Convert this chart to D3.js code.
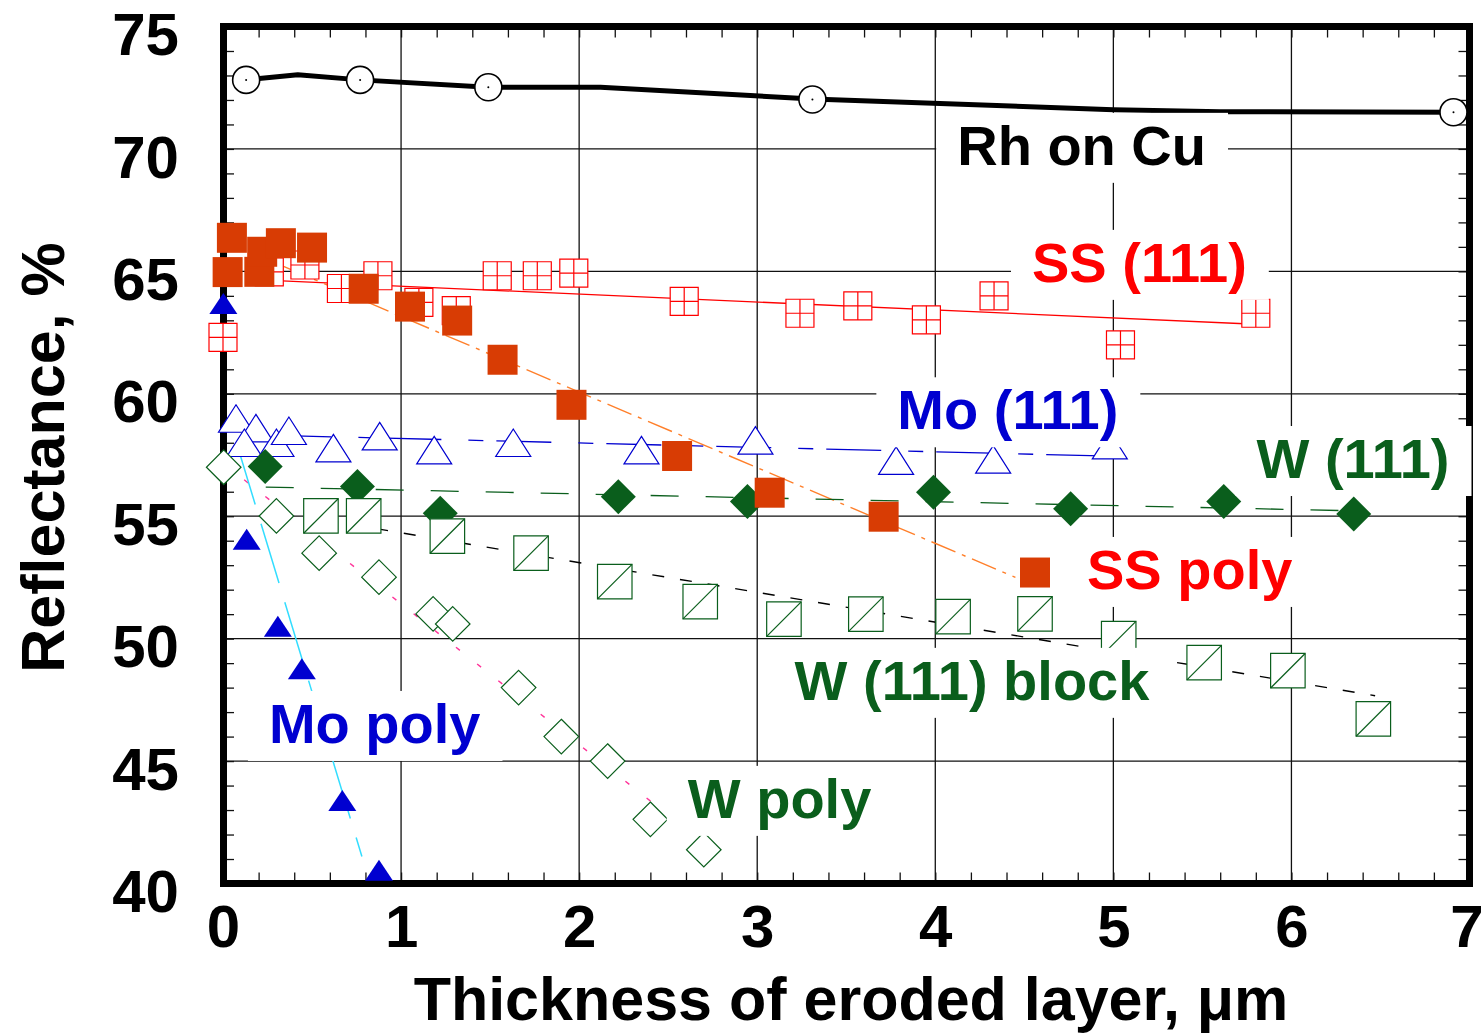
<!DOCTYPE html>
<html>
<head>
<meta charset="utf-8">
<script src="https://cdn.jsdelivr.net/npm/d3@7"></script>
<style>
  html, body { margin: 0; padding: 0; background: #fff; }
  svg { display: block; }
</style>
</head>
<body>
<svg id="chart" width="1484" height="1033"></svg>
<script>
// ---- axes ----
const xTicks = [0, 1, 2, 3, 4, 5, 6, 7];
const yTicks = [40, 45, 50, 55, 60, 65, 70, 75];
const xTitle = "Thickness of eroded layer, \u03bcm";
const yTitle = "Reflectance, %";

// ---- Rh on Cu (open circles + smoothed trend) ----
const rhX = [0.13, 0.77, 1.49, 3.31, 6.91];
const rhY = [72.82, 72.82, 72.52, 72.02, 71.5];
const rhTrendX = [0.13, 0.42, 0.77, 1.49, 2.12, 3.31, 5.0, 5.6, 6.91];
const rhTrendY = [72.82, 73.03, 72.82, 72.52, 72.52, 72.04, 71.6, 71.52, 71.5];

// ---- SS (111) ----
const ss111X = [0.0, 0.26, 0.46, 0.665, 0.87, 1.10, 1.31, 1.54, 1.765, 1.97, 2.59, 3.24, 3.565, 3.95, 4.33, 5.04, 5.80];
const ss111Y = [62.3, 64.98, 65.26, 64.3, 64.82, 63.73, 63.4, 64.82, 64.82, 64.93, 63.77, 63.29, 63.59, 63.02, 64.0, 62.0, 63.29];
const ss111TrendX = [0.3, 5.8];
const ss111TrendY = [64.62, 62.84];

// ---- SS poly ----
const ssPolyX = [0.05, 0.026, 0.204, 0.22, 0.325, 0.50, 0.79, 1.05, 1.315, 1.57, 1.957, 2.55, 3.07, 3.71, 4.56];
const ssPolyY = [66.37, 64.97, 64.98, 65.8, 66.15, 65.97, 64.29, 63.56, 62.99, 61.39, 59.55, 57.46, 55.96, 54.98, 52.7];
const ssPolyTrendX = [0.34, 4.45];
const ssPolyTrendY = [65.2, 52.5];

// ---- Mo (111) ----
const mo111X = [0.073, 0.185, 0.12, 0.30, 0.37, 0.62, 0.88, 1.186, 1.63, 2.35, 2.99, 3.78, 4.325, 4.98];
const mo111Y = [58.99, 58.6, 58.0, 58.0, 58.49, 57.78, 58.27, 57.7, 58.0, 57.7, 58.1, 57.27, 57.32, 57.9];
const mo111TrendX = [0.3, 5.0];
const mo111TrendY = [58.3, 57.45];

// ---- W (111) ----
const w111X = [0.237, 0.755, 1.22, 2.22, 2.945, 3.99, 4.76, 5.62, 6.35];
const w111Y = [57.03, 56.21, 55.12, 55.8, 55.6, 55.98, 55.3, 55.6, 55.09];
const w111TrendX = [0.24, 6.35];
const w111TrendY = [56.19, 55.22];

// ---- W (111) block ----
const wBlockX = [0.55, 0.79, 1.26, 1.73, 2.20, 2.68, 3.15, 3.61, 4.10, 4.56, 5.03, 5.51, 5.98, 6.46];
const wBlockY = [55.01, 55.01, 54.19, 53.49, 52.33, 51.51, 50.8, 51.0, 50.9, 51.01, 50.0, 49.02, 48.69, 46.72];
const wBlockTrendX = [0.55, 6.47];
const wBlockTrendY = [54.87, 47.67];

// ---- W poly ----
const wPolyX = [0.004, 0.30, 0.54, 0.876, 1.18, 1.29, 1.66, 1.90, 2.16, 2.40, 2.70];
const wPolyY = [57.0, 55.01, 53.49, 52.51, 51.01, 50.6, 48.0, 46.0, 45.0, 42.62, 41.38];
const wPolyTrendX = [0.0, 2.68];
const wPolyTrendY = [57.17, 41.76];

// ---- Mo poly ----
const moPolyX = [0.002, 0.133, 0.308, 0.443, 0.67, 0.876];
const moPolyY = [63.69, 54.06, 50.51, 48.77, 43.39, 40.54];
const moPolyTrendX = [0.08, 0.78];
const moPolyTrendY = [57.9, 41.1];

// ---- in-plot labels (anchor = text start, baseline, in data units) ----
const labelText = ["Rh on Cu", "SS (111)", "Mo (111)", "W (111)", "SS poly", "W (111) block", "Mo poly", "W poly"];
const labelX = [4.123, 4.543, 3.787, 5.804, 4.852, 3.21, 0.258, 2.61];
const labelY = [69.35, 64.57, 58.55, 56.56, 52.03, 47.5, 45.74, 42.68];

// ---------------------------------------------------------------
const C = {
  black: "#000000",
  red: "#ff0000",
  ssPoly: "#d83c04",
  orange: "#ff7f2a",
  blue: "#0000d0",
  cyan: "#33ddff",
  green: "#0a5e1c",
  magenta: "#ff3399"
};
const labelColor = [C.black, C.red, C.blue, C.green, C.red, C.green, C.blue, C.green];
const FONT = "'Liberation Sans', Arial, Helvetica, sans-serif";

const svg = d3.select("#chart");
const x = d3.scaleLinear().domain([0, 7]).range([223, 1469.5]);
const y = d3.scaleLinear().domain([40, 75]).range([883.5, 26.5]);
const [x0, x1] = x.range();
const [y0, y1] = y.range();

const zip = (xs, ys) => xs.map((v, i) => [v, ys[i]]);

// gridlines
const grid = svg.append("g").attr("stroke", "#111").attr("stroke-width", 1.3);
grid.selectAll("line.gx").data(xTicks.slice(1, -1)).join("line")
  .attr("x1", d => x(d)).attr("x2", d => x(d)).attr("y1", y1).attr("y2", y0);
grid.selectAll("line.gy").data(yTicks.slice(1, -1)).join("line")
  .attr("y1", d => y(d)).attr("y2", d => y(d)).attr("x1", x0).attr("x2", x1);

// inward minor ticks on all four sides
const xMinor = d3.range(0, 35).map(i => i / 5);
const yMinor = d3.range(40, 76);
const tickLen = 11;
function styleTicks(g) {
  g.select(".domain").remove();
  g.selectAll(".tick line").attr("stroke", "#111").attr("stroke-width", 1.3);
}
svg.append("g").attr("transform", `translate(0,${y0})`)
  .call(d3.axisBottom(x).tickValues(xMinor).tickSize(-tickLen).tickFormat("")).call(styleTicks);
svg.append("g").attr("transform", `translate(0,${y1})`)
  .call(d3.axisTop(x).tickValues(xMinor).tickSize(-tickLen).tickFormat("")).call(styleTicks);
svg.append("g").attr("transform", `translate(${x0},0)`)
  .call(d3.axisLeft(y).tickValues(yMinor).tickSize(-tickLen).tickFormat("")).call(styleTicks);
svg.append("g").attr("transform", `translate(${x1},0)`)
  .call(d3.axisRight(y).tickValues(yMinor).tickSize(-tickLen).tickFormat("")).call(styleTicks);

// thick frame
svg.append("rect")
  .attr("x", x0 + 0.5).attr("y", y1).attr("width", x1 - x0 - 0.5).attr("height", y0 - y1)
  .attr("fill", "none").attr("stroke", "#000").attr("stroke-width", 7);

// tick labels
const xAxisLabels = svg.append("g").attr("transform", `translate(0,${y0})`)
  .call(d3.axisBottom(x).tickValues(xTicks).tickSize(0).tickPadding(21).tickFormat(d3.format("d")));
const yAxisLabels = svg.append("g").attr("transform", `translate(${x0},0)`)
  .call(d3.axisLeft(y).tickValues(yTicks).tickSize(0).tickPadding(44).tickFormat(d3.format("d")));
[xAxisLabels, yAxisLabels].forEach(g => {
  g.select(".domain").remove();
  g.selectAll("text").attr("font-family", FONT).attr("font-weight", "bold")
    .attr("font-size", 60).attr("fill", "#000");
});
yAxisLabels.selectAll("text").attr("dy", "0.47em");
// keep the last x label inside the page edge
xAxisLabels.selectAll("text").filter(d => d === 7).attr("dx", -3);

// axis titles
svg.append("text").attr("x", 851).attr("y", 1020)
  .attr("text-anchor", "middle").attr("font-family", FONT).attr("font-weight", "bold")
  .attr("font-size", 61).text(xTitle);
svg.append("text").attr("transform", "translate(63.5,457.5) rotate(-90)")
  .attr("text-anchor", "middle").attr("font-family", FONT).attr("font-weight", "bold")
  .attr("font-size", 61).text(yTitle);

// trend lines
const line = d3.line().x(d => x(d[0])).y(d => y(d[1]));
const trends = [
  { pts: zip(rhTrendX, rhTrendY), color: C.black, w: 5, dash: null },
  { pts: zip(ss111TrendX, ss111TrendY), color: C.red, w: 1.3, dash: null },
  { pts: zip(ssPolyTrendX, ssPolyTrendY), color: C.orange, w: 1.4, dash: "26,7,4,7" },
  { pts: zip(mo111TrendX, mo111TrendY), color: C.blue, w: 1.3, dash: "55,27,15,13" },
  { pts: zip(w111TrendX, w111TrendY), color: C.green, w: 1.3, dash: "28,27" },
  { pts: zip(wBlockTrendX, wBlockTrendY), color: C.black, w: 1.4, dash: "12,16" },
  { pts: zip(wPolyTrendX, wPolyTrendY), color: C.magenta, w: 1.4, dash: "5,22" },
  { pts: zip(moPolyTrendX, moPolyTrendY), color: C.cyan, w: 1.5, dash: "62,20" }
];
svg.append("g").selectAll("path").data(trends).join("path")
  .attr("d", d => line(d.pts)).attr("fill", "none")
  .attr("stroke", d => d.color).attr("stroke-width", d => d.w)
  .attr("stroke-dasharray", d => d.dash).attr("stroke-linejoin", "round");

// marker shapes (centred on the data point)
const sq = s => `M${-s/2},${-s/2}H${s/2}V${s/2}H${-s/2}Z`;
const tri = (w, h) => `M0,${-h/2}L${w/2},${h/2}L${-w/2},${h/2}Z`;
const dia = r => `M0,${-r}L${r},0L0,${r}L${-r},0Z`;

function markers(xs, ys, draw) {
  const g = svg.append("g");
  g.selectAll("g").data(zip(xs, ys)).join("g")
    .attr("transform", d => `translate(${x(d[0])},${y(d[1])})`)
    .each(function () { draw(d3.select(this)); });
}

// Rh on Cu: open circle with centre dot
markers(rhX, rhY, m => {
  m.append("circle").attr("r", 13.5).attr("fill", "#fff").attr("stroke", "#000").attr("stroke-width", 1.6);
  m.append("circle").attr("r", 1).attr("fill", "#000");
});
// SS (111): open square divided into four
markers(ss111X, ss111Y, m => {
  m.append("path").attr("d", sq(28)).attr("fill", "#fff").attr("stroke", C.red).attr("stroke-width", 1.2);
  m.append("path").attr("d", "M0,-14V14M-14,0H14").attr("stroke", C.red).attr("stroke-width", 1.2);
});
// Mo (111): open triangle
markers(mo111X, mo111Y, m => {
  m.append("path").attr("d", tri(35, 27.5)).attr("fill", "#fff").attr("stroke", C.blue).attr("stroke-width", 1.2);
});
// W (111): filled diamond
markers(w111X, w111Y, m => {
  m.append("path").attr("d", dia(17.5)).attr("fill", C.green);
});
// W (111) block: open square with diagonal
markers(wBlockX, wBlockY, m => {
  m.append("path").attr("d", sq(34.5)).attr("fill", "#fff").attr("stroke", C.green).attr("stroke-width", 1.2);
  m.append("path").attr("d", "M-17.25,17.25L17.25,-17.25").attr("stroke", C.green).attr("stroke-width", 1.2);
});
// W poly: open diamond
markers(wPolyX, wPolyY, m => {
  m.append("path").attr("d", dia(17.3)).attr("fill", "#fff").attr("stroke", C.green).attr("stroke-width", 1.2);
});
// Mo poly: filled triangle
markers(moPolyX, moPolyY, m => {
  m.append("path").attr("d", tri(28, 21)).attr("fill", C.blue);
});
// SS poly: filled square
markers(ssPolyX, ssPolyY, m => {
  m.append("path").attr("d", sq(30)).attr("fill", C.ssPoly);
});

// series labels on white boxes
const labels = svg.append("g");
labelText.forEach((t, i) => {
  const g = labels.append("g");
  const rect = g.append("rect").attr("fill", "#fff");
  const txt = g.append("text")
    .attr("x", x(labelX[i])).attr("y", y(labelY[i]))
    .attr("font-family", FONT).attr("font-weight", "bold").attr("font-size", 56)
    .attr("fill", labelColor[i]).text(t);
  const len = txt.node().getComputedTextLength();
  rect.attr("x", x(labelX[i]) - 21).attr("y", y(labelY[i]) - 52)
    .attr("width", len + 43).attr("height", 70);
});
</script>
</body>
</html>
